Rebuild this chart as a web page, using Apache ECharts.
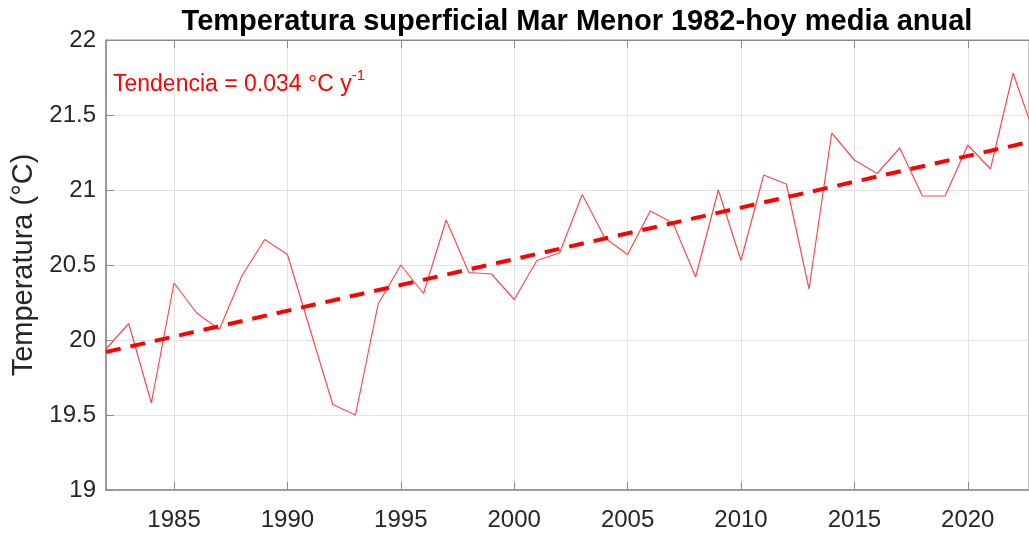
<!DOCTYPE html>
<html>
<head>
<meta charset="utf-8">
<script src="https://cdn.jsdelivr.net/npm/echarts@6/dist/echarts.min.js"></script>
<style>
  html, body { margin: 0; padding: 0; background: #fff; }
  #chart { width: 1029px; height: 533px; }
</style>
</head>
<body>
<div id="chart"></div>
<script>
// años y media anual (°C)
const years = [1982, 1983, 1984, 1985, 1986, 1987, 1988, 1989, 1990, 1991,
  1992, 1993, 1994, 1995, 1996, 1997, 1998, 1999, 2000, 2001,
  2002, 2003, 2004, 2005, 2006, 2007, 2008, 2009, 2010, 2011,
  2012, 2013, 2014, 2015, 2016, 2017, 2018, 2019, 2020, 2021,
  2022, 2023];
const temps = [19.94, 20.11, 19.58, 20.38, 20.18, 20.07, 20.43, 20.67, 20.57, 20.07,
  19.57, 19.50, 20.24, 20.50, 20.31, 20.80, 20.45, 20.44, 20.27, 20.53,
  20.58, 20.97, 20.68, 20.57, 20.86, 20.78, 20.42, 21.00, 20.53, 21.10,
  21.04, 20.34, 21.38, 21.20, 21.11, 21.28, 20.96, 20.96, 21.30, 21.14,
  21.78, 21.34];

// recta de tendencia (extremos)
const trendYears = [1982, 2023];
const trendTemps = [19.92, 21.33];

const xTicks = [1985, 1990, 1995, 2000, 2005, 2010, 2015, 2020];
const yTicks = [19, 19.5, 20, 20.5, 21, 21.5, 22];

const chart = echarts.init(document.getElementById('chart'), null, {renderer: 'canvas'});

const axisCol = '#8a8a8a';
const txtCol = '#262626';
const fontFam = '"Liberation Sans", Arial, sans-serif';

const option = {
  animation: false,
  backgroundColor: '#fff',
  title: {
    text: 'Temperatura superficial Mar Menor 1982-hoy media anual',
    left: 572,
    textAlign: 'center',
    top: 2,
    textStyle: {fontFamily: fontFam, fontSize: 29, fontWeight: 'bold', color: '#000'}
  },
  grid: {left: 106, top: 40, right: 0, bottom: 43, show: true, borderColor: axisCol, borderWidth: 1},
  xAxis: [{
    type: 'value',
    min: 1982,
    max: 2022.7,
    axisLine: {show: true, onZero: false, lineStyle: {color: axisCol, width: 1.5}},
    axisTick: {show: true, inside: true, length: 8, customValues: xTicks, lineStyle: {color: axisCol}},
    axisLabel: {
      customValues: xTicks, color: txtCol, fontFamily: fontFam, fontSize: 24, margin: 18,
      formatter: v => String(v)
    },
    splitLine: {show: true, lineStyle: {color: '#e3e3e3', width: 1}}
  }, {
    type: 'value',
    position: 'top',
    min: 1982,
    max: 2022.7,
    axisLine: {show: true, lineStyle: {color: axisCol}},
    axisTick: {show: true, inside: true, length: 8, customValues: xTicks, lineStyle: {color: axisCol}},
    axisLabel: {show: false},
    splitLine: {show: false}
  }],
  yAxis: {
    type: 'value',
    min: yTicks[0],
    max: yTicks[yTicks.length - 1],
    interval: 0.5,
    name: 'Temperatura (°C)',
    nameLocation: 'middle',
    nameGap: 64,
    nameTextStyle: {color: txtCol, fontFamily: fontFam, fontSize: 29},
    axisLine: {show: true, lineStyle: {color: axisCol, width: 1.5}},
    axisTick: {show: true, inside: true, length: 8, lineStyle: {color: axisCol}},
    axisLabel: {color: txtCol, fontFamily: fontFam, fontSize: 24, margin: 10},
    splitLine: {show: true, lineStyle: {color: '#e3e3e3', width: 1}}
  },
  graphic: [{
    type: 'text',
    left: 113,
    top: 68,
    style: {
      text: '{a|Tendencia = 0.034 °C y}{s|-1}',
      rich: {
        a: {fill: '#ff0000', fontFamily: fontFam, fontSize: 23, verticalAlign: 'bottom'},
        s: {fill: '#ff0000', fontFamily: fontFam, fontSize: 15, padding: [0, 0, 13, 0], verticalAlign: 'bottom'}
      }
    }
  }],
  series: [{
    name: 'Media anual',
    type: 'line',
    data: years.map((y, i) => [y, temps[i]]),
    symbol: 'none',
    lineStyle: {color: '#ff4a4a', width: 1.2},
    clip: true,
    z: 2
  }, {
    name: 'Tendencia',
    type: 'line',
    data: trendYears.map((y, i) => [y, trendTemps[i]]),
    symbol: 'none',
    lineStyle: {color: '#ff0000', width: 4, type: [15, 10]},
    clip: true,
    z: 3
  }]
};

chart.setOption(option);
</script>
</body>
</html>
